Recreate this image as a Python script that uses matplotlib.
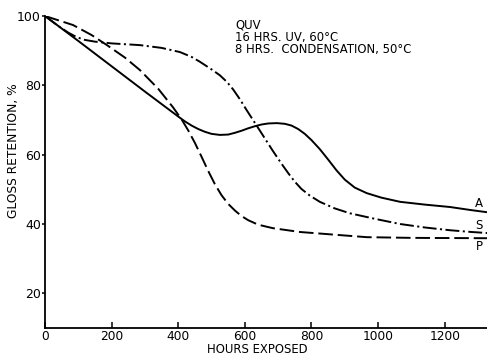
import matplotlib
matplotlib.use("Agg")
import matplotlib.pyplot as plt

# Gloss retention under QUV exposure for three coatings
hours_a = [0, 100, 200, 300, 400, 420, 440, 460, 480, 500, 525, 550, 570, 590, 610, 630,
           650, 670, 696, 720, 740, 760, 780, 800, 825, 850, 875, 900, 930, 966,
           1010, 1066, 1140, 1216, 1280, 1327]
gloss_a = [100, 92.8, 85.5, 78.2, 71, 69.6, 68.4, 67.4, 66.6, 66.0, 65.7, 65.8, 66.3, 66.9, 67.6, 68.2,
           68.7, 69.0, 69.1, 68.9, 68.4, 67.4, 66.0, 64.2, 61.6, 58.6, 55.5, 52.8, 50.5, 48.9,
           47.6, 46.4, 45.6, 44.9, 44.0, 43.4]

hours_s = [0, 40, 70, 95, 120, 150, 200, 285, 350, 405, 440, 465, 500, 525, 546, 565, 585, 605,
           636, 660, 684, 710, 730, 750, 770, 795, 825, 870, 915, 990, 1066, 1140, 1216, 1280, 1327]
gloss_s = [100, 97.1, 95.2, 93.9, 93.1, 92.6, 92.1, 91.6, 90.8, 89.6, 88.2, 86.8, 84.6, 82.9, 81.0, 78.8, 76.0, 72.9,
           68.3, 64.7, 61.1, 57.4, 54.7, 52.2, 50.1, 48.2, 46.4, 44.5, 43.1, 41.5, 40.0, 39.0, 38.2, 37.7, 37.4]

hours_p = [0, 84, 140, 186, 240, 285, 340, 384, 410, 430, 450, 470, 490, 510, 530, 550,
           570, 590, 610, 640, 684, 765, 885, 966, 1100, 1327]
gloss_p = [100, 97.4, 94.5, 91.6, 88, 84.4, 79, 73.7, 70.2, 67.0, 63.4, 59.4, 55.3, 51.5, 48.3, 45.8,
           43.9, 42.3, 41.1, 39.8, 38.8, 37.7, 36.8, 36.2, 36.0, 35.9]

curve_labels = ["A", "S", "P"]
label_pos = [(1303, 46.0), (1303, 39.7), (1303, 33.4)]

x_ticks = [0, 200, 400, 600, 800, 1000, 1200]
y_ticks = [20, 40, 60, 80, 100]

notes = ["QUV", "16 HRS. UV, 60°C", "8 HRS.  CONDENSATION, 50°C"]

plt.rcParams["font.family"] = ["DejaVu Sans"]
plt.rcParams["lines.scale_dashes"] = False

fig = plt.figure(figsize=(4.87, 3.56), dpi=100)
ax = fig.add_axes([45 / 487, 28 / 356, 442 / 487, 312 / 356])

lw = 1.4
ax.plot(hours_a, gloss_a, color="black", lw=lw, solid_capstyle="butt")
ax.plot(hours_s, gloss_s, color="black", lw=lw,
        dashes=(10, 2.5, 1.5, 2.5), dash_capstyle="butt")
ax.plot(hours_p, gloss_p, color="black", lw=lw,
        dashes=(10.5, 3.5), dash_capstyle="butt")

for lab, (xp, yp) in zip(curve_labels, label_pos):
    ax.text(xp, yp, lab, fontsize=8.5, ha="center", va="center")

ax.set_xlim(0, 1327)
ax.set_ylim(10, 100)
ax.set_xticks(x_ticks)
ax.set_yticks(y_ticks)

for side in ("top", "right"):
    ax.spines[side].set_visible(False)
for side in ("left", "bottom"):
    ax.spines[side].set_linewidth(1.3)

ax.tick_params(axis="x", direction="in", length=4.5, width=1.1, labelsize=8.8, pad=1.8)
ax.tick_params(axis="y", direction="out", length=2.5, width=1.1, labelsize=9, pad=0.5)

ax.set_xlabel("HOURS EXPOSED", fontsize=8.4)
ax.xaxis.set_label_coords(0.48, -0.049)
ax.set_ylabel("GLOSS RETENTION, %", fontsize=8.8)
ax.yaxis.set_label_coords(-0.057, 0.567)

for i, line in enumerate(notes):
    fig.text(235 / 487, 1 - (25 + 12.5 * i) / 356, line, fontsize=8.4,
             ha="left", va="center")

fig.savefig("out.png", dpi=100)
